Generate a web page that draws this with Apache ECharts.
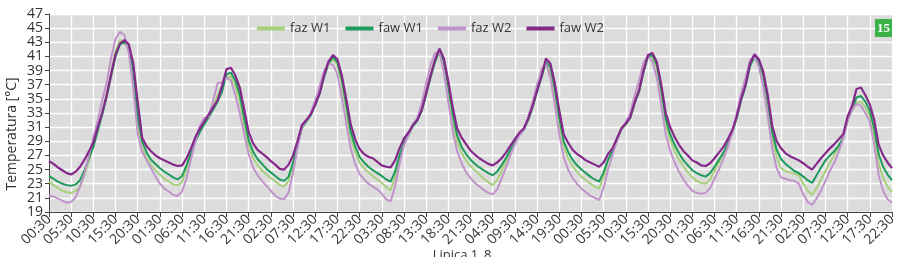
<!DOCTYPE html>
<html>
<head>
<meta charset="utf-8">
<script src="https://cdn.jsdelivr.net/npm/echarts@6/dist/echarts.min.js"></script>
<style>
html,body{margin:0;padding:0;background:#fff;}
#c{width:900px;height:257px;}
</style>
</head>
<body>
<div id="c"></div>
<script>
const seriesNames = ['faz W1', 'faw W1', 'faz W2', 'faw W2'];

const tickLabels = ['00:30','05:30','10:30','15:30','20:30','01:30','06:30','11:30','16:30','21:30',
  '02:30','07:30','12:30','17:30','22:30','03:30','08:30','13:30','18:30','21:30',
  '04:30','09:30','14:30','19:30','00:30','05:30','10:30','15:30','20:30','01:30',
  '06:30','11:30','16:30','21:30','02:30','07:30','12:30','17:30','22:30'];

const fazW1 = [23.3,22.8,22.4,22.0,21.8,21.7,22.0,22.6,24.2,26.3,28.4,30.8,33.2,35.8,38.8,41.8,43.3,43.2,41.8,37.5,31.0,28.0,26.6,25.6,
24.9,24.3,23.7,23.3,22.9,22.8,23.2,25.2,27.3,29.2,30.6,31.8,32.7,34.0,35.5,37.0,38.0,38.2,36.8,34.6,31.3,28.3,26.6,25.6,
24.9,24.3,23.8,23.3,22.8,22.6,23.4,25.6,28.3,30.9,31.9,32.8,34.3,35.9,38.2,39.9,40.6,39.8,37.0,33.2,29.5,27.5,26.0,25.2,
24.6,24.1,23.6,23.1,22.5,22.1,23.9,26.6,28.7,29.9,31.2,32.0,33.6,36.0,38.5,40.6,41.8,39.8,35.8,31.8,28.9,27.3,26.3,25.5,
24.9,24.3,23.7,23.2,22.8,23.5,24.8,26.2,27.6,28.9,30.0,30.8,32.3,34.2,36.5,38.5,40.0,39.0,35.6,31.5,28.2,26.6,25.5,24.7,
24.0,23.5,23.0,22.6,22.3,24.0,26.2,27.6,29.3,30.9,31.6,32.6,34.8,36.5,39.2,41.0,40.9,39.2,35.4,31.4,29.2,27.6,26.4,25.4,
24.6,23.9,23.4,23.1,23.0,23.6,24.8,26.0,27.2,28.6,30.3,32.5,35.0,37.2,39.8,40.8,39.9,37.6,33.8,29.4,26.8,25.2,24.8,24.6,
24.4,24.2,23.0,22.0,21.4,22.4,23.6,24.8,26.0,27.0,28.2,29.6,32.2,33.4,34.5,34.6,33.8,32.6,29.8,25.8,23.8,22.6,21.8];

const fawW1 = [24.1,23.7,23.3,23.0,22.8,22.7,22.9,23.5,24.9,26.6,28.2,30.5,32.8,35.3,38.2,41.0,42.7,43.0,42.3,39.0,32.5,29.0,27.4,26.4,
25.8,25.2,24.7,24.3,23.9,23.6,24.1,25.6,27.3,29.0,30.3,31.4,32.4,33.5,34.6,36.0,38.5,38.7,37.6,35.6,32.3,29.2,27.5,26.5,
25.8,25.1,24.6,24.1,23.6,23.4,24.0,26.0,28.4,30.9,31.8,32.7,34.1,35.7,38.1,40.0,40.9,40.2,37.8,34.2,30.4,28.3,26.8,26.0,
25.4,24.9,24.5,24.1,23.6,23.3,24.7,27.0,28.8,29.9,31.1,31.9,33.3,35.6,38.0,40.2,41.8,40.3,36.8,32.9,29.8,28.2,27.2,26.4,
25.8,25.3,24.9,24.5,24.2,24.7,25.6,26.6,27.8,28.9,29.9,30.6,32.0,33.8,36.0,38.0,40.2,39.5,36.5,32.5,29.0,27.5,26.4,25.6,
25.0,24.5,24.0,23.6,23.3,24.6,26.4,27.6,29.2,30.7,31.4,32.3,34.4,36.0,38.8,41.0,41.2,39.8,36.3,32.2,30.0,28.5,27.3,26.3,
25.6,24.9,24.5,24.2,24.0,24.5,25.4,26.4,27.4,28.7,30.2,32.3,34.8,36.8,39.6,41.0,40.3,38.3,34.8,30.3,27.8,26.5,25.8,25.3,
24.8,24.5,24.0,23.5,23.1,24.2,25.3,26.3,27.0,27.6,28.4,29.5,32.0,33.5,35.2,35.4,34.6,33.3,30.8,27.2,25.4,24.3,23.5];

const fazW2 = [21.3,21.2,20.9,20.6,20.3,20.4,21.1,22.6,24.5,27.0,29.5,32.0,34.8,37.3,40.8,43.5,44.5,44.0,41.5,36.5,30.0,27.5,26.3,25.2,
24.0,23.0,22.3,21.9,21.4,21.3,21.9,23.8,26.5,29.0,31.2,32.3,32.5,34.8,37.2,37.3,38.0,37.6,35.5,33.0,30.0,27.2,25.3,24.2,
23.4,22.7,22.0,21.3,20.9,20.8,21.8,24.5,28.0,31.0,32.0,33.0,34.8,36.8,39.0,40.0,39.8,38.5,35.2,31.5,28.0,25.8,24.4,23.6,
23.0,22.6,22.2,21.6,20.8,20.5,22.6,25.8,28.4,29.8,31.3,32.3,34.4,37.2,39.8,41.5,41.5,38.8,34.5,30.5,27.6,25.9,24.6,23.8,
23.1,22.6,22.1,21.7,21.5,22.2,23.7,25.3,27.0,28.6,29.8,30.6,32.4,34.6,37.0,39.2,40.0,38.0,34.2,30.0,26.8,25.0,23.8,23.0,
22.3,21.8,21.3,21.0,20.7,22.4,25.0,27.0,29.0,30.8,31.7,33.0,35.5,37.6,40.2,41.0,40.3,38.0,34.0,30.0,27.7,26.0,24.7,23.6,
22.7,22.0,21.7,21.6,21.7,22.4,23.7,25.0,26.5,28.2,30.2,33.0,35.8,38.0,40.5,41.0,39.5,36.6,32.6,28.0,25.2,23.9,23.7,23.5,
23.4,23.0,21.5,20.4,20.0,20.9,22.0,23.4,24.8,26.0,27.5,29.4,32.0,33.5,34.3,34.0,33.0,31.8,28.5,24.2,22.0,20.8,20.3];

const fawW2 = [26.2,25.8,25.3,24.9,24.5,24.3,24.7,25.4,26.4,27.6,28.8,31.0,33.0,35.5,38.5,41.3,42.8,43.3,42.7,40.0,34.5,29.5,28.3,27.6,
27.0,26.6,26.3,26.0,25.7,25.5,25.6,26.6,28.0,29.6,30.8,31.8,32.8,33.8,34.8,36.8,39.2,39.4,38.3,36.6,33.5,30.3,28.7,27.8,
27.3,26.8,26.2,25.7,25.1,25.0,25.7,27.0,29.0,31.3,32.0,32.8,34.2,35.8,38.3,40.3,41.2,40.6,38.3,35.0,31.4,29.3,27.9,27.2,
26.8,26.6,26.1,25.6,25.4,25.3,26.3,28.0,29.4,30.2,31.3,32.0,33.4,35.8,38.3,40.5,42.1,40.7,37.5,33.8,30.8,29.5,28.6,27.7,
27.1,26.6,26.2,25.8,25.6,26.0,26.6,27.4,28.4,29.3,30.2,30.8,32.2,34.0,36.2,38.2,40.7,40.0,37.2,33.4,30.0,28.8,27.8,27.2,
26.8,26.3,26.0,25.7,25.4,26.0,27.2,28.0,29.4,30.8,31.5,32.4,34.5,36.2,39.0,41.2,41.5,40.2,37.0,33.0,31.0,29.6,28.5,27.6,
27.0,26.3,26.0,25.6,25.5,25.9,26.6,27.4,28.2,29.3,30.6,32.5,35.0,37.0,40.0,41.3,40.6,38.8,35.5,31.2,29.0,28.0,27.3,26.9,
26.6,26.3,25.9,25.4,25.0,25.8,26.6,27.3,28.0,28.6,29.3,30.0,32.5,34.0,36.4,36.6,35.5,34.2,32.0,28.5,27.0,26.0,25.2];

const colors = ['#a9d07c', '#1e9a5c', '#c193cb', '#84288a'];

// hourly category slots; labels shown every 5th slot come from tickLabels
const categories = fawW2.map((v, i) => String(i));

const chart = echarts.init(document.getElementById('c'), null, {renderer: 'canvas'});
const dataSets = [fazW1, fawW1, fazW2, fawW2];
const FONT = '"Open Sans", "Noto Sans", sans-serif';

chart.setOption({
  animation: false,
  color: colors,
  grid: {left: 49, right: 8, top: 14, bottom: 45, show: true, backgroundColor: '#dcdcdd', borderWidth: 0},
  legend: {
    top: 17, left: 252,
    itemWidth: 28, itemHeight: 4, itemGap: 15,
    icon: 'rect',
    textStyle: {fontSize: 13, color: '#333', fontFamily: FONT},
    data: seriesNames
  },
  xAxis: {
    type: 'category',
    data: categories,
    boundaryGap: false,
    axisLine: {lineStyle: {color: '#444', width: 1}},
    axisTick: {show: true, interval: 4, length: 5, lineStyle: {color: '#444'}},
    axisLabel: {
      interval: 4, rotate: 45, fontSize: 14, color: '#333', fontFamily: FONT, margin: 5,
      hideOverlap: false,
      formatter: (v, idx) => tickLabels[Math.round(idx / 5)] || ''
    },
    splitLine: {show: true, interval: 4, lineStyle: {color: '#ffffff', width: 1.3}}
  },
  yAxis: {
    type: 'value', min: 19, max: 47, interval: 2,
    axisLine: {show: true, lineStyle: {color: '#444', width: 1}},
    axisTick: {show: true, length: 4, lineStyle: {color: '#444'}},
    axisLabel: {fontSize: 14, color: '#333', fontFamily: FONT, margin: 6},
    splitLine: {show: true, lineStyle: {color: '#ffffff', width: 1.3}}
  },
  graphic: [
    {type: 'text', rotation: Math.PI / 2, z: 100,
     x: 12, y: 134,
     style: {text: 'Temperatura [°C]', fontSize: 14, fill: '#333', fontFamily: FONT, align: 'center', verticalAlign: 'middle'}},
    {type: 'text', x: 462, y: 249, z: 100,
     style: {text: 'Lipica 1_8', fontSize: 13, fill: '#333', fontFamily: FONT, align: 'center', verticalAlign: 'top'}},
    {type: 'rect', z: 100, shape: {x: 875, y: 19, width: 17, height: 18}, style: {fill: '#3cb14a'}},
    {type: 'text', z: 101, x: 883.5, y: 28.5,
     style: {text: '15', fontSize: 13, fontWeight: 'bold', fill: '#ffffff', fontFamily: '"Liberation Serif", serif', align: 'center', verticalAlign: 'middle'}}
  ],
  series: seriesNames.map((name, i) => ({
    name: name,
    type: 'line',
    data: dataSets[i],
    showSymbol: false,
    symbol: 'none',
    lineStyle: {width: i === 3 ? 2.2 : 2, color: colors[i]},
    z: 2 + i
  }))
});
</script>
</body>
</html>
